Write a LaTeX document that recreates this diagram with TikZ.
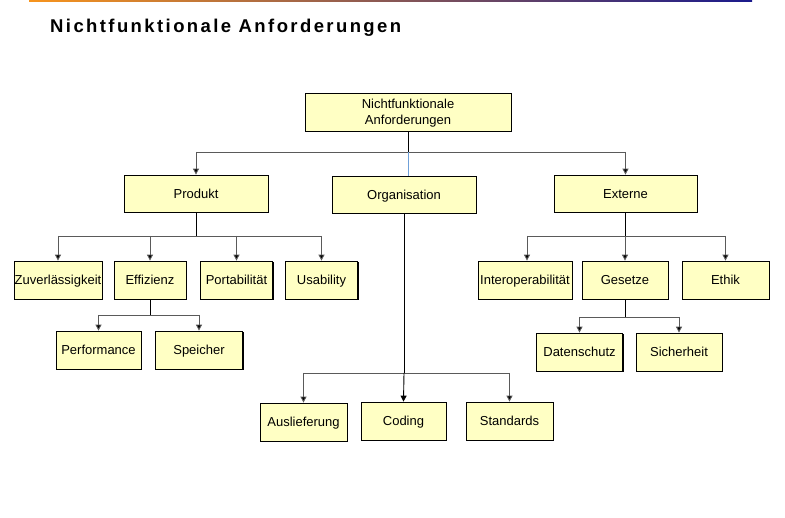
\documentclass[tikz,border=0pt]{standalone}
\usepackage{fontspec}
\setmainfont{Liberation Sans}
\usetikzlibrary{arrows.meta,shadows}
\definecolor{boxy}{HTML}{FFFFC4}
\definecolor{topor}{HTML}{F7941D}
\definecolor{topbl}{HTML}{1A1A8C}
\definecolor{hgrey}{HTML}{5A5A5A}
\definecolor{lblue}{HTML}{6FA0D8}
\tikzset{
  box/.style={draw=black, line width=0.8pt, fill=boxy, inner sep=0pt, minimum height=37pt,
    align=center, font=\fontsize{13}{16}\selectfont, text height=9.3pt, text depth=0pt,
    drop shadow={shadow xshift=1.3pt, shadow yshift=-1.3pt, fill=black, opacity=1}},
  stem/.style={draw=black, line width=0.9pt},
  hline/.style={draw=hgrey, line width=0.9pt},
  tip/.style={-{Triangle[width=6pt,length=6pt,fill=black]}},
  arr/.style={draw=hgrey, line width=0.9pt, tip},
}
\begin{document}
\begin{tikzpicture}[x=1pt,y=-1pt]
\useasboundingbox (0,0) rectangle (785,518);
\shade[left color=topor, right color=topbl] (29,0) rectangle (752,2);
\node[anchor=base west, inner sep=0pt, font=\fontsize{18.5}{22}\selectfont\bfseries\addfontfeatures{LetterSpace=13}] (title) at (50,33) {Nichtfunktionale Anforderungen};

\node[box, minimum width=206pt, minimum height=38pt, text height=25.3pt, text depth=0pt] (root) at (408,112) {Nichtfunktionale\\Anforderungen};
\node[box, minimum width=144pt] (prod) at (196,193.5) {Produkt};
\node[box, minimum width=144pt] (org) at (404,194.5) {Organisation};
\node[box, minimum width=143pt] (ext) at (625.5,193.5) {Externe};

\node[box, minimum width=88pt, minimum height=38pt] (zuv) at (58,280) {Zuverlässigkeit};
\node[box, minimum width=72pt, minimum height=38pt] (eff) at (150,280) {Effizienz};
\node[box, minimum width=72pt, minimum height=38pt] (por) at (236.5,280) {Portabilität};
\node[box, minimum width=72pt, minimum height=38pt] (usa) at (321.5,280) {Usability};

\node[box, minimum width=85pt, minimum height=38pt] (perf) at (98.5,350) {Performance};
\node[box, minimum width=87pt, minimum height=38pt] (spei) at (199,350) {Speicher};

\node[box, minimum width=87pt, minimum height=38pt] (aus) at (303.5,422) {Auslieferung};
\node[box, minimum width=85pt, minimum height=38pt] (cod) at (403.5,421) {Coding};
\node[box, minimum width=87pt, minimum height=38pt] (sta) at (509.5,421) {Standards};

\node[box, minimum width=94pt, minimum height=38pt] (intr) at (525,280) {Interoperabilität};
\node[box, minimum width=86pt, minimum height=38pt] (ges) at (625,280) {Gesetze};
\node[box, minimum width=87pt, minimum height=38pt] (eth) at (725.5,280) {Ethik};

\node[box, minimum width=86pt, minimum height=38pt] (dat) at (579.5,352) {Datenschutz};
\node[box, minimum width=86pt, minimum height=38pt] (sich) at (679,352) {Sicherheit};

% root level
\coordinate (j0) at (408,152);
\draw[stem] (root.south) -- (j0);
\draw[hline] (prod.north |- j0) -- (ext.north |- j0);
\draw[arr] (prod.north |- j0) -- (prod.north);
\draw[arr] (ext.north |- j0) -- (ext.north);
\draw[draw=lblue, line width=0.9pt] (j0) -- (j0 |- org.north);

% Produkt
\coordinate (j1) at (196,236);
\draw[stem] (prod.south) -- (j1);
\draw[hline] (zuv.north |- j1) -- (usa.north |- j1);
\foreach \n in {zuv,eff,por,usa} \draw[arr] (\n.north |- j1) -- (\n.north);

% Effizienz
\coordinate (j2) at (150,315);
\draw[stem] (eff.south) -- (j2);
\draw[hline] (perf.north |- j2) -- (spei.north |- j2);
\foreach \n in {perf,spei} \draw[arr] (\n.north |- j2) -- (\n.north);

% Organisation
\coordinate (j3) at (404,373);
\draw[stem] (org.south) -- (j3);
\draw[hline] (aus.north |- j3) -- (sta.north |- j3);
\draw[arr] (aus.north |- j3) -- (aus.north);
\draw[arr] (sta.north |- j3) -- (sta.north);
\draw[stem, tip] (j3) -- (cod.north);

% Externe
\coordinate (j4) at (625.5,236);
\draw[stem] (ext.south) -- (j4);
\draw[hline] ([xshift=2pt]intr.north |- j4) -- (eth.north |- j4);
\draw[arr] ([xshift=2pt]intr.north |- j4) -- ([xshift=2pt]intr.north);
\draw[arr] (ges.north |- j4) -- (ges.north);
\draw[arr] (eth.north |- j4) -- (eth.north);

% Gesetze
\coordinate (j5) at (625,317);
\draw[stem] (ges.south) -- (j5);
\draw[hline] (dat.north |- j5) -- (sich.north |- j5);
\foreach \n in {dat,sich} \draw[arr] (\n.north |- j5) -- (\n.north);
\end{tikzpicture}
\end{document}
